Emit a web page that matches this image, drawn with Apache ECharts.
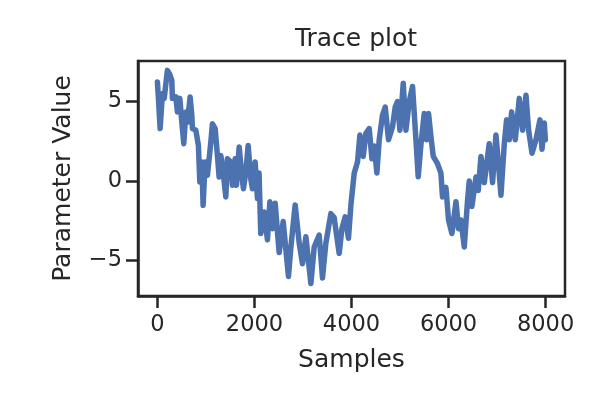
<!DOCTYPE html>
<html>
<head>
<meta charset="utf-8">
<script src="https://cdn.jsdelivr.net/npm/echarts@6/dist/echarts.min.js"></script>
<style>html,body{margin:0;padding:0;background:#fff}#c{width:600px;height:400px}</style>
</head>
<body>
<div id="c"></div>
<script>
// Trace (turning points of the noisy trace)
var samples = [0,15,56,103,140,206,256,297,309,379,412,462,503,544,586,619,674,709,722,792,845,874,915,942,984,1031,1066,1101,1134,1190,1237,1272,1307,1355,1410,1443,1513,1546,1602,1629,1685,1740,1773,1823,1870,1926,1959,2014,2062,2095,2130,2200,2268,2318,2371,2427,2509,2592,2701,2751,2839,2922,2990,3060,3163,3231,3334,3402,3472,3575,3643,3746,3802,3870,3938,3988,4056,4124,4173,4241,4297,4365,4421,4468,4523,4571,4639,4695,4763,4845,4901,4948,4998,5066,5122,5190,5258,5328,5375,5431,5499,5547,5588,5637,5685,5773,5843,5876,5946,6000,6070,6153,6206,6256,6324,6392,6427,6482,6565,6612,6668,6736,6839,6907,6977,7031,7080,7148,7196,7252,7300,7375,7458,7526,7596,7650,7720,7802,7884,7926,7973,7995];
var values = [6.23,5.5,3.3,5.5,5.2,6.96,6.7,6.33,5.2,5.3,4.34,5.2,3.7,2.35,4.34,3.7,5.28,4.13,3.3,3.2,2.24,-0.06,1.2,-1.53,1.2,0.36,1.4,2.45,3.6,3.3,1.6,0.25,1.6,0.57,-1.0,1.4,1.2,-0.27,1.4,-0.27,2.14,0.36,-0.48,0.57,2.24,0.1,-0.48,1.2,-1.1,0.5,-3.3,-1.95,-3.7,-1.3,-3.0,-1.4,-4.5,-2.55,-6.0,-4.15,-1.5,-3.9,-5.2,-3.5,-6.45,-4.15,-3.4,-6.1,-3.9,-2.05,-2.3,-4.55,-3.0,-2.25,-3.6,-1.5,0.5,1.2,2.9,1.55,3.0,3.3,1.4,2.2,0.5,2.6,4.15,4.65,2.6,3.4,4.65,5.0,3.2,6.15,3.2,5.0,5.95,2.6,0.27,2.3,4.25,2.6,4.25,2.8,1.55,1.1,0.5,-1.0,-0.4,-2.45,-3.3,-1.3,-3.0,-2.45,-4.15,-1.2,0.0,-1.6,0.25,-0.6,1.55,-0.1,2.35,-0.1,2.9,1.0,-0.9,2.3,3.85,2.6,4.35,2.6,5.2,3.2,5.4,3.2,1.75,2.6,3.85,2.0,3.65,2.6];
var xTicks = [0,2000,4000,6000,8000];
var yTicks = [-5,0,5];

var ink = '#262626';
var font = 'DejaVu Sans';
var data = samples.map(function(s,i){return [s, values[i]];});
var chart = echarts.init(document.getElementById('c'), null, {renderer:'canvas'});
chart.setOption({
  animation:false,
  backgroundColor:'#ffffff',
  title:{text:'Trace plot', left:351, textAlign:'center', top:22,
    textStyle:{fontFamily:font, fontSize:25, fontWeight:'normal', color:ink}},
  grid:{left:138, right:35, top:61, bottom:104, show:true, borderColor:ink, borderWidth:2.5, containLabel:false},
  xAxis:{type:'value', min:-400, max:8400,
    name:'Samples', nameLocation:'middle', nameGap:52,
    nameTextStyle:{fontFamily:font, fontSize:25, color:ink},
    axisLine:{show:true, onZero:false, lineStyle:{color:ink, width:2.5}},
    axisTick:{show:true, customValues:xTicks, length:12, lineStyle:{color:ink, width:2.5}},
    axisLabel:{customValues:xTicks, fontFamily:font, fontSize:22.5, color:ink, margin:18,
      formatter:function(v){return String(v);}},
    splitLine:{show:false}},
  yAxis:{type:'value', min:-7.23, max:7.55,
    name:'Parameter Value', nameLocation:'middle', nameRotate:90, nameGap:62,
    nameTextStyle:{fontFamily:font, fontSize:25, color:ink},
    axisLine:{show:true, onZero:false, lineStyle:{color:ink, width:2.5}},
    axisTick:{show:true, customValues:yTicks, length:12, lineStyle:{color:ink, width:2.5}},
    axisLabel:{customValues:yTicks, fontFamily:font, fontSize:22.5, color:ink, margin:16,
      formatter:function(v){return String(v).replace('-', '\u2212');}},
    splitLine:{show:false}},
  series:[{type:'line', data:data, showSymbol:false, symbol:'none',
    lineStyle:{color:'#4C72B0', width:5.5, join:'round', cap:'round'}}]
});
</script>
</body>
</html>
